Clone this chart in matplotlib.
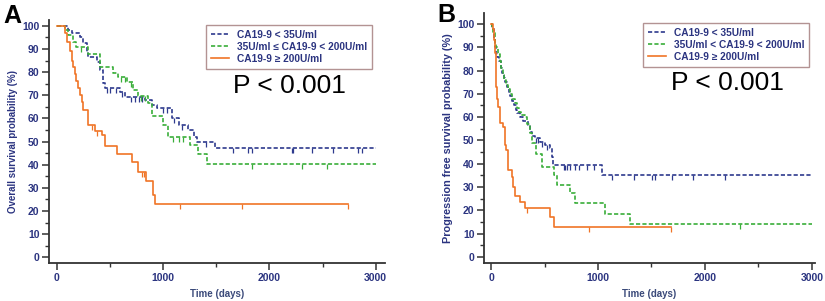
import numpy as np
import matplotlib
matplotlib.use("Agg")
import matplotlib.pyplot as plt
from matplotlib.ticker import MultipleLocator

plt.rcParams['font.family'] = ['Liberation Sans', 'DejaVu Sans']
plt.rcParams['lines.scale_dashes'] = False

# ---- panel A: overall survival ----
blue_a_t = [105, 141, 219, 250, 282, 297, 376, 407, 439, 454, 595, 642, 830, 893,
            940, 1081, 1150, 1238, 1294, 1316, 1489]
blue_a_s = [98, 97, 95, 92.4, 88.8, 86.6, 84.4, 80.9, 75.1, 73, 71.5, 69.3, 68, 66,
            64.3, 60, 57.1, 55, 52, 49.9, 47]
blue_a_cens = [470, 500, 560, 610, 700, 740, 770, 800, 1000, 1040, 1100, 1180, 1400,
               1661, 1803, 1834, 2210, 2226, 2398, 2602, 2837, 2868]

green_a_t = [80, 110, 150, 185, 298, 407, 533, 580, 660, 720, 760, 862, 893, 1003,
             1050, 1250, 1332, 1411]
green_a_s = [98, 96, 93, 91, 88, 82, 79.4, 77.8, 75.8, 72.2, 69.5, 66.5, 61, 57,
             52, 48.5, 44.5, 40.2]
green_a_cens = [230, 600, 640, 700, 790, 830, 1097, 1150, 1191, 1834, 2304, 2539]

orange_a_t = [80, 100, 120, 140, 155, 170, 185, 200, 215, 235, 250, 297, 360, 423,
              454, 570, 711, 768, 837, 903, 925]
orange_a_s = [97, 93, 89, 85, 82, 79, 76, 73, 70, 67, 63.6, 57, 54.7, 52.8,
              48, 44.6, 41.3, 37, 33, 27, 22.9]
orange_a_cens = [330, 380, 800, 820, 1160, 1740, 2743]

# ---- panel B: progression free survival ----
blue_b_t = [10, 25, 40, 50, 60, 75, 90, 105, 120, 135, 150, 165, 180, 200, 215, 230,
            245, 270, 300, 349, 364, 385, 411, 458, 500, 551, 567, 582, 1035]
blue_b_s = [98, 94, 90, 87, 86, 84, 81, 79, 77, 75, 73, 71, 69, 67, 65, 63,
            61.6, 60, 58.5, 56.6, 53.7, 52, 50.9, 49.4, 48, 46.6, 43, 39.4, 35.1]
blue_b_cens = [420, 440, 480, 520, 679, 695, 710, 741, 788, 819, 897, 959, 1131,
               1333, 1505, 1533, 1689, 1891, 2190]

green_b_t = [5, 20, 35, 50, 65, 80, 95, 110, 125, 140, 160, 180, 200, 220, 240, 260,
             280, 320, 340, 360, 380, 420, 474, 586, 614, 741, 785, 1065, 1299]
green_b_s = [98, 96, 92, 90, 87, 84, 81, 78, 76, 74, 72, 70, 68, 66, 64, 62,
             61, 60, 57, 53, 48.7, 44, 38.7, 35, 30.8, 27.2, 23.2, 18.3, 14]
green_b_cens = [2330]

orange_b_t = [19, 28, 34, 42, 50, 57, 65, 81, 112, 128, 140, 162, 193, 208, 224,
              271, 318, 551, 589]
orange_b_s = [98, 93, 87.5, 80, 73, 68, 64.5, 57.5, 55.9, 48, 45.8, 37.3, 34.4,
              30.1, 26.1, 23.6, 20.8, 17.2, 12.9]
orange_b_cens = [336, 913, 1679]

labels_a = ["CA19-9 < 35U/ml", "35U/ml \u2264 CA19-9 < 200U/ml", "CA19-9 \u2265 200U/ml"]
labels_b = ["CA19-9 < 35U/ml", "35U/ml < CA19-9 < 200U/ml", "CA19-9 \u2265 200U/ml"]

BLUE = "#2e3a8e"
GREEN = "#3aae3a"
ORANGE = "#f07426"
NAVY = "#2b3480"


def km(ax, t, s, cens, end, color, dashed, label):
    tt = np.r_[0, t, end]
    ss = np.r_[100, s, s[-1]]
    kw = dict(dashes=(3, 1.6)) if dashed else {}
    ax.plot(tt, ss, drawstyle="steps-post", color=color, lw=1.2, label=label, **kw)
    cens = np.asarray(cens)
    idx = np.searchsorted(tt, cens, side="right") - 1
    ax.plot(cens, ss[idx], ls="none", marker=3, ms=3.5, mew=0.9, color=color)


def style(ax, xlim, ylim, ylabel, ylabel_size):
    ax.set_xlim(*xlim)
    ax.set_ylim(*ylim)
    for sp in ("top", "right"):
        ax.spines[sp].set_visible(False)
    for sp in ("left", "bottom"):
        ax.spines[sp].set_linewidth(1.3)
        ax.spines[sp].set_color("#333333")
    ax.set_xticks([0, 1000, 2000, 3000])
    ax.xaxis.set_minor_locator(MultipleLocator(500))
    ax.set_yticks(np.arange(0, 101, 10))
    ax.yaxis.set_minor_locator(MultipleLocator(5))
    ax.tick_params(which="major", length=5, width=1.1, color="#333333",
                   labelsize=7.5, labelcolor=NAVY, pad=2)
    ax.tick_params(which="minor", length=3, width=1.0, color="#333333")
    for lab in ax.get_xticklabels() + ax.get_yticklabels():
        lab.set_fontweight("bold")
    ax.set_xlabel("Time (days)", fontsize=7, fontweight="bold", color="#3b4a7a", labelpad=4)
    ax.set_ylabel(ylabel, fontsize=ylabel_size, fontweight="bold", color=NAVY, labelpad=3)


fig = plt.figure(figsize=(8.25, 3.01), dpi=100)
axA = fig.add_axes([0.0598, 0.1252, 0.4069, 0.8083])
axB = fig.add_axes([0.5870, 0.1252, 0.4008, 0.8306])

km(axA, blue_a_t, blue_a_s, blue_a_cens, 3000, BLUE, True, labels_a[0])
km(axA, green_a_t, green_a_s, green_a_cens, 3000, GREEN, True, labels_a[1])
km(axA, orange_a_t, orange_a_s, orange_a_cens, 2743, ORANGE, False, labels_a[2])
style(axA, (-70, 3088), (-2.6, 102.5), "Overall survival probability (%)", 7)

km(axB, blue_b_t, blue_b_s, blue_b_cens, 3000, BLUE, True, labels_b[0])
km(axB, green_b_t, green_b_s, green_b_cens, 3000, GREEN, True, labels_b[1])
km(axB, orange_b_t, orange_b_s, orange_b_cens, 1679, ORANGE, False, labels_b[2])
style(axB, (-63, 3028), (-2.8, 104.6), "Progression free survival probability (%)", 7.8)

W, H = 825, 301
for ax, (lx, ly) in ((axA, (206, 25)), (axB, (643, 23))):
    leg = ax.legend(loc="upper left", bbox_to_anchor=(lx / W, 1 - ly / H),
                    bbox_transform=fig.transFigure, borderaxespad=0, fancybox=False,
                    frameon=True, handlelength=1.8, handletextpad=0.8, labelspacing=0.22,
                    borderpad=0.45, prop=dict(size=7.3, weight="bold"))
    leg.get_frame().set_edgecolor("#a07878")
    leg.get_frame().set_linewidth(1.0)
    for txt in leg.get_texts():
        txt.set_color(NAVY)

fig.text(233 / W, 1 - 93 / H, "P < 0.001", fontsize=19, ha="left", va="baseline")
fig.text(671 / W, 1 - 90 / H, "P < 0.001", fontsize=19, ha="left", va="baseline")
fig.text(3 / W, 1 - 4 / H, "A", fontsize=18, fontweight="bold", ha="left", va="top")
fig.text(437 / W, 1 - 3 / H, "B", fontsize=18, fontweight="bold", ha="left", va="top")

fig.savefig("out.png", dpi=100)
